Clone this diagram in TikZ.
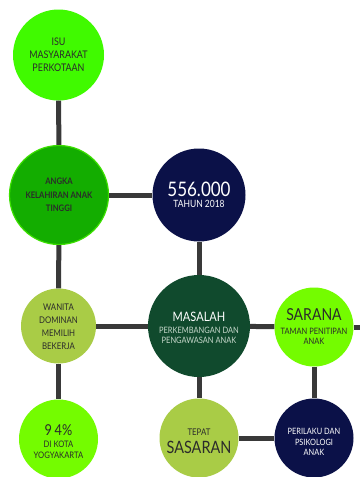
\documentclass[tikz,border=0pt]{standalone}
\usepackage{fontspec}
\setmainfont{Lato}[FakeStretch=0.85]
\usetikzlibrary{calc}

\definecolor{linegray}{HTML}{393939}
\definecolor{brightgreen}{HTML}{40FA00}
\definecolor{midgreen}{HTML}{13AD00}
\definecolor{rimgreen}{HTML}{3CE000}
\definecolor{navy}{HTML}{0B1148}
\definecolor{olive}{HTML}{A9CC46}
\definecolor{forest}{HTML}{104A2D}
\definecolor{lime}{HTML}{74FC00}
\definecolor{inkgray}{HTML}{2B2B2B}
\definecolor{palegreen}{HTML}{C6D8CB}

\newcommand{\fs}[2]{\fontsize{#1}{#2}\selectfont}

\begin{document}
\begin{tikzpicture}[x=1pt,y=-1pt,
    bubble/.style={circle,inner sep=0pt,align=center,text=inkgray},
    words/.style={inner sep=0pt,align=center,text=inkgray},
    link/.style={draw=linegray,line width=5pt}
  ]
  \useasboundingbox (0,0) rectangle (360,477);
  \fill[white] (0,0) rectangle (360,477);

  % left column
  \node[bubble,fill=brightgreen,minimum size=91pt,font=\fs{10.5}{13}] (isu) at (58.5,55)
    {ISU\\MASYARAKAT\\PERKOTAAN};
  \node[bubble,fill=midgreen,draw=rimgreen,line width=1.2pt,minimum size=99pt,
    font=\bfseries\fs{9}{13.5}] (angka) at (59,195)
    {ANGKA\\KELAHIRAN ANAK\\TINGGI};
  \node[bubble,fill=olive,minimum size=75pt] (wanita) at (58.5,326) {};
  \node[words,font=\fs{9.2}{13}] (wanita-t) at ($(wanita)+(0,0.5)$)
    {WANITA\\DOMINAN\\MEMILIH\\BEKERJA};
  \node[bubble,fill=lime,minimum size=79pt] (persen) at (58.5,439) {};
  \node[words,font=\fs{15}{17}] (persen-a) at ($(persen)+(0,-9)$) {9\,4\%};
  \node[words,font=\fs{9}{11}] (persen-b) at ($(persen)+(0,10.5)$) {DI KOTA\\YOGYAKARTA};

  % middle column
  \node[bubble,fill=navy,minimum size=93pt] (jumlah) at (199,195) {};
  \node[words,text=white,font=\fs{20}{22}] (jumlah-a) at ($(jumlah)+(0,-6)$) {556.000};
  \node[words,text=white,font=\fs{10}{12}] (jumlah-b) at ($(jumlah)+(0,9)$) {TAHUN 2018};
  \node[bubble,fill=forest,minimum size=102pt] (masalah) at (199,326) {};
  \node[words,text=white,font=\fs{13}{15}] (masalah-a) at ($(masalah)+(0,-9)$) {MASALAH};
  \node[words,text=palegreen,font=\fs{8.8}{10}] (masalah-b) at ($(masalah)+(0,9)$)
    {PERKEMBANGAN DAN\\PENGAWASAN ANAK};
  \node[bubble,fill=olive,minimum size=79pt] (tepat) at (199,438) {};
  \node[words,font=\fs{9.2}{11}] (tepat-a) at ($(tepat)+(0,-6)$) {TEPAT};
  \node[words,font=\fs{17}{19}] (tepat-b) at ($(tepat)+(0,9)$) {SASARAN};

  % right column
  \node[bubble,fill=lime,minimum size=79pt] (sarana) at (314,327) {};
  \node[words,font=\fs{16.5}{19}] (sarana-a) at ($(sarana)+(0,-12)$) {SARANA};
  \node[words,font=\fs{8.8}{10}] (sarana-b) at ($(sarana)+(0,9)$) {TAMAN PENITIPAN\\ANAK};
  \node[bubble,fill=navy,minimum size=79pt] (perilaku) at (314,438) {};
  \node[words,text=white,font=\fs{8.7}{10.5}] (perilaku-t) at ($(perilaku)+(0,4)$)
    {PERILAKU DAN\\PSIKOLOGI\\ANAK};
  \coordinate (rand) at (360,327);

  \draw[link] (isu) -- (angka);
  \draw[link] (angka) -- (wanita);
  \draw[link] (wanita) -- (persen);
  \draw[link] (angka) -- (jumlah);
  \draw[link] (jumlah) -- (masalah);
  \draw[link] (wanita) -- (masalah);
  \draw[link] (masalah) -- (sarana);
  \draw[link] (sarana) -- (rand);
  \draw[link] (masalah) -- (tepat);
  \draw[link] (sarana) -- (perilaku);
  \draw[link] (tepat) -- (perilaku);
\end{tikzpicture}
\end{document}
